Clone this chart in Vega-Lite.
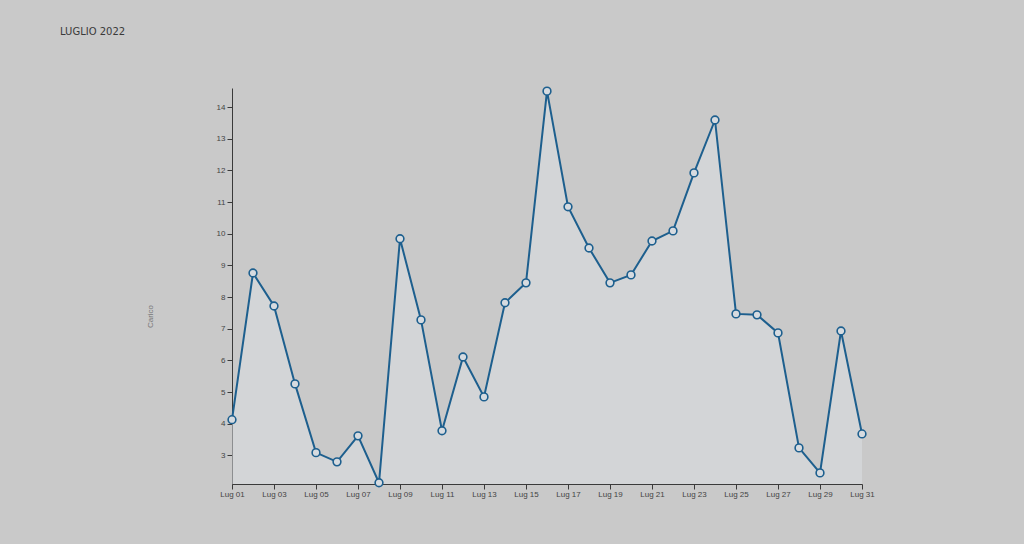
{
  "$schema": "https://vega.github.io/schema/vega-lite/v6.json",
  "width": 630,
  "height": 396,
  "autosize": "none",
  "padding": {"left": 232, "top": 88, "right": 162, "bottom": 60},
  "background": "#c9c9c9",
  "config": {"view": {"stroke": null}, "font": "Liberation Sans"},
  "title": {
    "text": "LUGLIO 2022",
    "anchor": "start",
    "frame": "group",
    "dx": -172,
    "offset": 47,
    "fontSize": 10,
    "fontWeight": "normal",
    "color": "#3a3a3a",
    "font": "DejaVu Sans"
  },
  "data": {
    "values": [
      {"data": "2022-07-01", "carico": 4.13},
      {"data": "2022-07-02", "carico": 8.76},
      {"data": "2022-07-03", "carico": 7.72},
      {"data": "2022-07-04", "carico": 5.26},
      {"data": "2022-07-05", "carico": 3.09},
      {"data": "2022-07-06", "carico": 2.8},
      {"data": "2022-07-07", "carico": 3.62},
      {"data": "2022-07-08", "carico": 2.14},
      {"data": "2022-07-09", "carico": 9.84},
      {"data": "2022-07-10", "carico": 7.28},
      {"data": "2022-07-11", "carico": 3.78},
      {"data": "2022-07-12", "carico": 6.11},
      {"data": "2022-07-13", "carico": 4.85},
      {"data": "2022-07-14", "carico": 7.82},
      {"data": "2022-07-15", "carico": 8.45},
      {"data": "2022-07-16", "carico": 14.5},
      {"data": "2022-07-17", "carico": 10.85},
      {"data": "2022-07-18", "carico": 9.55},
      {"data": "2022-07-19", "carico": 8.45},
      {"data": "2022-07-20", "carico": 8.7},
      {"data": "2022-07-21", "carico": 9.77},
      {"data": "2022-07-22", "carico": 10.09},
      {"data": "2022-07-23", "carico": 11.92},
      {"data": "2022-07-24", "carico": 13.59},
      {"data": "2022-07-25", "carico": 7.47},
      {"data": "2022-07-26", "carico": 7.44},
      {"data": "2022-07-27", "carico": 6.87},
      {"data": "2022-07-28", "carico": 3.24},
      {"data": "2022-07-29", "carico": 2.45},
      {"data": "2022-07-30", "carico": 6.93},
      {"data": "2022-07-31", "carico": 3.68}
    ]
  },
  "encoding": {
    "x": {
      "field": "data",
      "type": "temporal",
      "scale": {"type": "utc", "domain": ["2022-07-01", "2022-07-31"]},
      "axis": {
        "title": null,
        "labelExpr": "'Lug ' + utcFormat(datum.value, '%d')",
        "tickCount": {"interval": "day", "step": 2},
        "grid": false,
        "domainColor": "#3a3a3a",
        "tickColor": "#3a3a3a",
        "tickSize": 5,
        "labelFontSize": 8,
        "labelColor": "#444444",
        "labelPadding": 1,
        "labelOverlap": false,
        "labelFlush": false,
        "labelBound": false
      }
    },
    "y": {
      "field": "carico",
      "type": "quantitative",
      "scale": {"domain": [2.1, 14.6], "zero": false, "nice": false},
      "axis": {
        "title": "Carico",
        "titleFontSize": 8,
        "titleFontWeight": "normal",
        "titleColor": "#777777",
        "titleX": -78,
        "titleY": 228,
        "values": [3, 4, 5, 6, 7, 8, 9, 10, 11, 12, 13, 14],
        "grid": false,
        "domainColor": "#3a3a3a",
        "tickColor": "#3a3a3a",
        "tickSize": 5,
        "labelFontSize": 8,
        "labelColor": "#444444",
        "labelPadding": 2
      }
    }
  },
  "layer": [
    {
      "mark": {"type": "area", "color": "#dde1e6", "opacity": 0.5},
      "encoding": {"y2": {"datum": 2.1}}
    },
    {
      "mark": {"type": "line", "color": "#1d5f8e", "strokeWidth": 2}
    },
    {
      "mark": {"type": "point", "filled": true, "fill": "#d6dbe0", "stroke": "#1d5f8e", "strokeWidth": 1.6, "size": 60, "opacity": 1}
    }
  ]
}
